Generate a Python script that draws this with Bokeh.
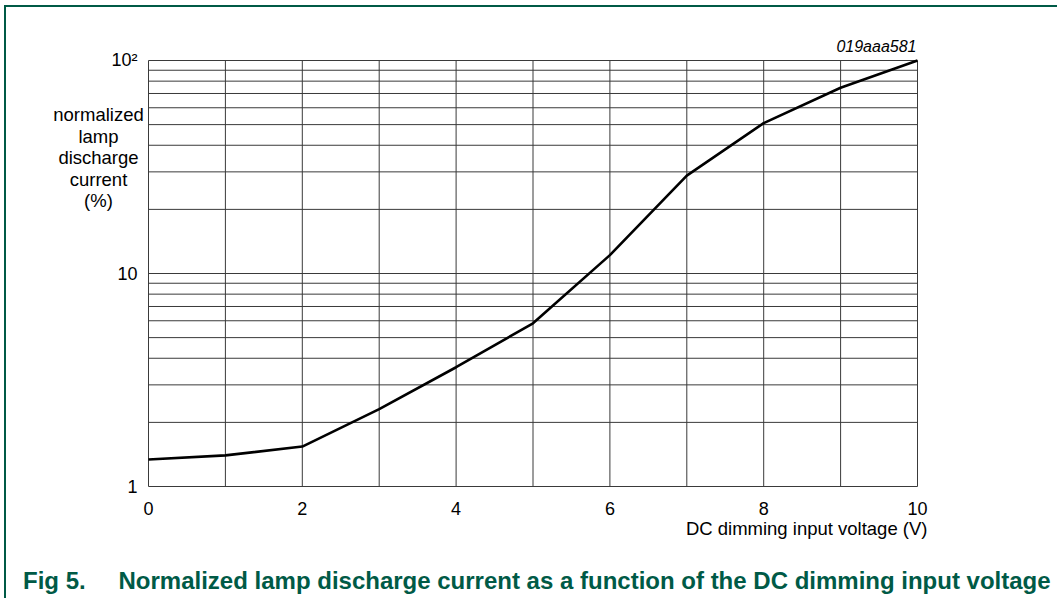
from bokeh.plotting import figure
from bokeh.models import Range1d
from bokeh.core.properties import value
from bokeh.embed import file_html
from bokeh.resources import INLINE

# ---- data ----
voltage = [0, 1, 2, 3, 4, 5, 6, 7, 8, 9, 10]
current = [1.34, 1.40, 1.54, 2.31, 3.63, 5.84, 12.2, 28.8, 50.8, 74.5, 100.0]

x_ticks = [0, 2, 4, 6, 8, 10]
x_tick_labels = ["0", "2", "4", "6", "8", "10"]
x_grid = [0, 1, 2, 3, 4, 5, 6, 7, 8, 9, 10]
y_ticks = [1, 10, 100]
y_tick_labels = ["1", "10", "10\u00b2"]
y_grid = [m * d for d in (1, 10) for m in range(1, 10)] + [100]

y_label_lines = ["normalized", "lamp", "discharge", "current", "(%)"]
x_label = "DC dimming input voltage (V)"
code_text = "019aaa581"
fig_no = "Fig 5."
caption = "Normalized lamp discharge current as a function of the DC dimming input voltage"

# ---- layout constants (pixels) ----
GREEN = "#005a46"
FONT = value("Liberation Sans")
OX, OY = 6, 7            # canvas origin on the page (margin + border)
W, H = 1053, 593         # canvas size
FL, FB = 148, 486        # chart left / bottom (page px)
PX = 76.9                # px per volt
DEC = 213.0              # px per decade

def dx(px):
    return (px - FL) / PX

def dy(py):
    return 10 ** ((FB - py) / DEC)

def ty(baseline_px, size):
    # text anchor so that the glyph baseline lands at baseline_px
    return dy(baseline_px - 0.37 * size)

p = figure(width=W, height=H,
           x_range=Range1d(dx(OX), dx(OX + W)),
           y_range=Range1d(dy(OY + H), dy(OY)),
           y_axis_type="log", x_axis_location=None, y_axis_location=None,
           output_backend="svg", toolbar_location=None,
           min_border=0, min_border_left=0, min_border_right=0,
           min_border_top=0, min_border_bottom=0)
p.styles = {"border-top": f"2px solid {GREEN}", "border-left": f"2px solid {GREEN}",
            "margin-left": "4px", "margin-top": "5px"}
p.outline_line_color = None
p.background_fill_color = "white"
p.border_fill_color = "white"
p.xgrid.visible = False
p.ygrid.visible = False

# grid lines (also form the chart frame)
x0, x1 = x_grid[0], x_grid[-1]
y0, y1 = y_grid[0], y_grid[-1]
p.segment(x0=x_grid, y0=[y0] * len(x_grid), x1=x_grid, y1=[y1] * len(x_grid),
          line_color="#3a3a3a", line_width=1)
p.segment(x0=[x0] * len(y_grid), y0=y_grid, x1=[x1] * len(y_grid), y1=y_grid,
          line_color="#3a3a3a", line_width=1)

# curve
p.line(voltage, current, line_color="black", line_width=2.6)

# tick labels
p.text(x=x_ticks, y=[ty(515, 18)] * len(x_ticks), text=x_tick_labels,
       text_align="center", text_baseline="alphabetic",
       text_font=FONT, text_font_size="18px", text_color="black")
p.text(x=[dx(137)] * len(y_ticks), y=[ty(492.5, 18), ty(280, 18), ty(66.5, 18)],
       text=y_tick_labels, text_align="right", text_baseline="alphabetic",
       text_font=FONT, text_font_size="18px", text_color="black")

# axis titles
p.text(x=[dx(98)] * len(y_label_lines),
       y=[ty(121 + 21.5 * i, 18.5) for i in range(len(y_label_lines))],
       text=y_label_lines, text_align="center", text_baseline="alphabetic",
       text_font=FONT, text_font_size="18.5px", text_color="black")
p.text(x=[dx(927)], y=[ty(535, 18.5)], text=[x_label], text_align="right",
       text_baseline="alphabetic", text_font=FONT, text_font_size="18.5px",
       text_color="black")
p.text(x=[dx(916)], y=[ty(52, 16)], text=[code_text], text_align="right",
       text_baseline="alphabetic", text_font=FONT, text_font_size="16px",
       text_font_style="italic", text_color="black")

# caption
p.text(x=[dx(22.5), dx(118)], y=[ty(589, 24), ty(589, 24)], text=[fig_no, caption],
       text_align="left", text_baseline="alphabetic", text_font=FONT,
       text_font_size="24px", text_font_style="bold", text_color=GREEN)

open("out.html", "w").write(file_html(p, INLINE))
